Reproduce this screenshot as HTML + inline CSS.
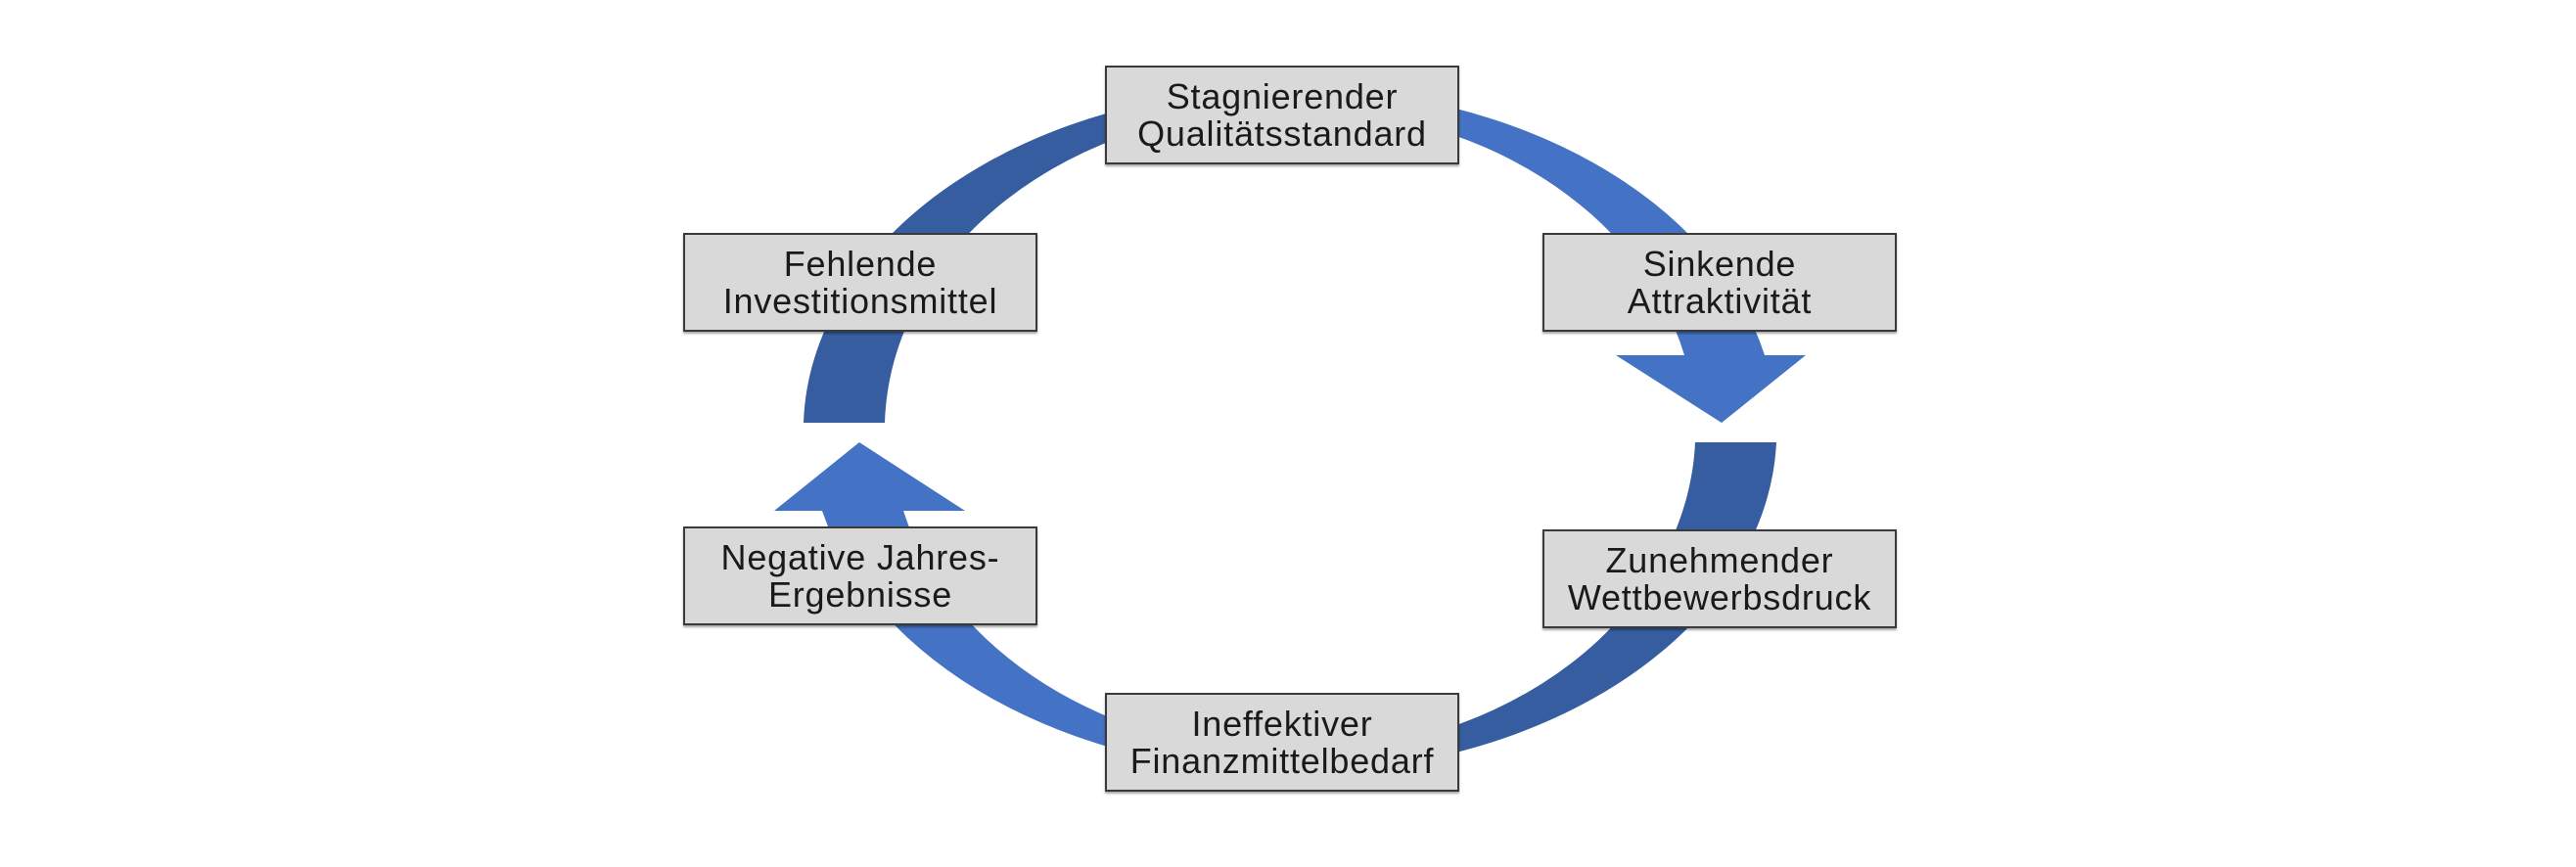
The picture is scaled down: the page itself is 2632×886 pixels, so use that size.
<!DOCTYPE html>
<html><head><meta charset="utf-8"><style>
html,body{margin:0;padding:0;background:#fff;}
body{width:2632px;height:886px;overflow:hidden;position:relative;}
.box{position:absolute;width:362px;height:101px;background:#d9d9d9;border:2px solid #3a3a3a;box-shadow:0 2px 2px rgba(0,0,0,0.35);box-sizing:border-box;
font-family:"Liberation Sans",sans-serif;font-size:36px;letter-spacing:0.8px;color:#1a1a1a;text-align:center;line-height:38px;padding-top:11px;}
</style></head><body>
<svg width="2632" height="886" style="position:absolute;left:0;top:0">
  <path d="M 821 432 A 497 350 0 0 1 1318 90 L 1318 110 A 414 330 0 0 0 904 432 Z" fill="#355d9f"/>
  <path d="M 1318 90 A 497 350 0 0 1 1803 363 L 1721 363 A 414 330 0 0 0 1318 110 Z" fill="#4472c4"/>
  <path d="M 1815 452 A 497 350 0 0 1 1318 790 L 1318 770 A 414 330 0 0 0 1732 452 Z" fill="#355d9f"/>
  <path d="M 1318 790 A 497 350 0 0 1 840 522 L 923 522 A 414 330 0 0 0 1318 770 Z" fill="#4472c4"/>
  <polygon points="1651,363 1845,363 1759,432" fill="#4472c4"/>
  <polygon points="791,522 986,522 878,452" fill="#4472c4"/>
</svg>
<div class="box" style="left:1129px;top:67px">Stagnierender<br>Qualitätsstandard</div>
<div class="box" style="left:698px;top:238px">Fehlende<br>Investitionsmittel</div>
<div class="box" style="left:1576px;top:238px">Sinkende<br>Attraktivität</div>
<div class="box" style="left:698px;top:538px">Negative Jahres-<br>Ergebnisse</div>
<div class="box" style="left:1576px;top:541px">Zunehmender<br>Wettbewerbsdruck</div>
<div class="box" style="left:1129px;top:708px">Ineffektiver<br>Finanzmittelbedarf</div>
</body></html>
